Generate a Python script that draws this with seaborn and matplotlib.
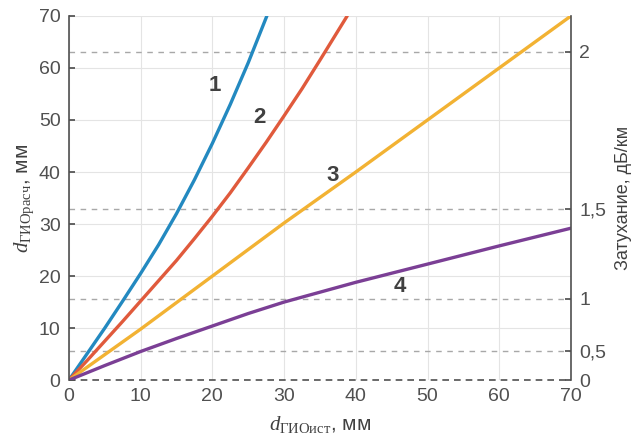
import seaborn as sns
import matplotlib.pyplot as plt
import pandas as pd

# curves
x1 = [0, 2.5, 5, 7.5, 10, 12.5, 15, 17.5, 20, 22.5, 25, 27.6]
y1 = [0, 5, 10, 15.2, 20.5, 26, 32, 38.5, 45.5, 53, 61, 70]
x2 = [0, 2.5, 5, 7.5, 10, 12.5, 15, 17.5, 20, 22.5, 25, 27.5, 30, 32.5, 35, 38.8]
y2 = [0, 3.7, 7.5, 11.3, 15.2, 19.1, 23, 27.2, 31.5, 36, 40.8, 45.7, 50.8, 56, 61.5, 70]
x3 = [0, 10, 20, 30, 40, 50, 60, 70]
y3 = [0, 9.8, 20, 30.2, 40, 50, 60, 70]
x4 = [0, 5, 10, 15, 20, 25, 30, 40, 50, 60, 70]
y4 = [0, 2.8, 5.5, 8.0, 10.4, 12.8, 15, 18.8, 22.3, 25.8, 29.2]

# attenuation scale on the right (position in left-axis units)
att_pos = [0, 5.6, 15.6, 32.8, 63.1]
att_labels = ['0', '0,5', '1', '1,5', '2']

curve_names = ['1', '2', '3', '4']
label_pos = [(20.4, 56.7), (26.6, 50.4), (36.8, 39.4), (46.2, 17.9)]
colors = ['#2389c0', '#e05a3c', '#f2b233', '#7b3f95']

sns.set_theme(style="whitegrid")
plt.rcParams['font.family'] = ['Liberation Sans', 'DejaVu Sans']
plt.rcParams['mathtext.fontset'] = 'custom'
plt.rcParams['mathtext.rm'] = 'Liberation Serif'
plt.rcParams['mathtext.it'] = 'Liberation Serif:italic'

frames = []
for name, xs, ys in zip(curve_names, [x1, x2, x3, x4], [y1, y2, y3, y4]):
    frames.append(pd.DataFrame({'x': xs, 'y': ys, 'curve': name}))
df = pd.concat(frames)

fig = plt.figure(figsize=(6.38, 4.42), dpi=100)
ax = fig.add_axes([0.108, 0.140, 0.787, 0.824])
ax.set_facecolor('white')

sns.lineplot(data=df, x='x', y='y', hue='curve', palette=colors, linewidth=2.4,
             legend=False, ax=ax, sort=False, estimator=None)

for p in att_pos[1:]:
    ax.axhline(p, color='#a8a8a8', linestyle=(0, (4, 4)), linewidth=1.0, zorder=1)
ax.axhline(0, color='#505050', linestyle=(0, (4, 3)), linewidth=1.2, zorder=1, clip_on=False)

for name, (lx, ly) in zip(curve_names, label_pos):
    ax.text(lx, ly, name, fontsize=16, fontweight='bold', color='#404040',
            ha='center', va='center')

ax.set_xlim(0, 70)
ax.set_ylim(0, 70)
ax.set_xticks(range(0, 71, 10))
ax.set_yticks(range(0, 71, 10))
ax.grid(True, color='#e4e4e4', linewidth=0.8)
ax.tick_params(direction='in', length=4, color='#505050', labelsize=14,
               labelcolor='#505050', pad=6)
for s in ['top', 'bottom', 'right']:
    ax.spines[s].set_visible(False)
ax.spines['left'].set_color('#505050')
ax.spines['left'].set_linewidth(1.2)

ax.set_xlabel(r'$d_{\mathrm{ГИОист}}$, мм', fontsize=15, color='#404040', labelpad=6)
ax.set_ylabel(r'$d_{\mathrm{ГИОрасч}}$, мм', fontsize=15, color='#404040', labelpad=2)

ax2 = ax.twinx()
ax2.set_ylim(0, 70)
ax2.set_yticks(att_pos)
ax2.set_yticklabels(att_labels)
ax2.grid(False)
ax2.tick_params(direction='in', length=4, color='#505050', labelsize=14,
                labelcolor='#505050', pad=6)
for s in ['top', 'bottom', 'left']:
    ax2.spines[s].set_visible(False)
ax2.spines['right'].set_color('#505050')
ax2.spines['right'].set_linewidth(1.2)
ax2.set_ylabel('Затухание, дБ/км', fontsize=13, color='#404040', labelpad=6)

fig.savefig('out.png', dpi=100, facecolor='white')
